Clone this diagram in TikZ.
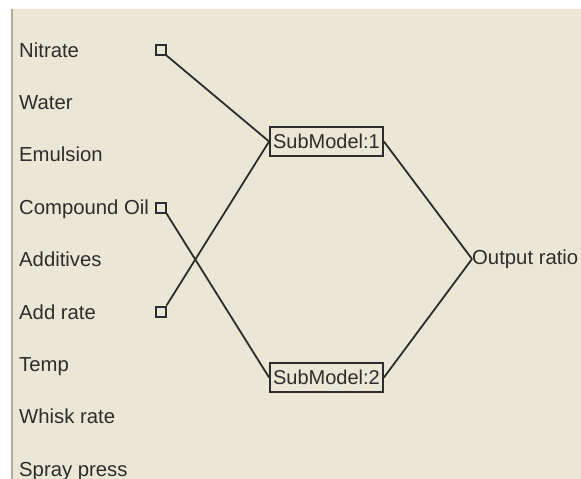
\documentclass[tikz,border=0pt]{standalone}
\usepackage{fontspec}
\setmainfont{Liberation Sans}
\definecolor{bg}{RGB}{234,231,214}
\definecolor{ink}{RGB}{45,45,45}
\definecolor{edge}{RGB}{176,172,156}
\begin{document}
\begin{tikzpicture}[x=1pt,y=-1pt,
  lbl/.style={anchor=base west,inner sep=0pt,text=ink,font=\fontsize{20.3}{22}\selectfont},
  port/.style={draw=ink,line width=2pt,minimum size=10pt,inner sep=0pt},
  subbox/.style={draw=ink,line width=1.8pt,minimum width=113pt,minimum height=29pt,inner sep=0pt,text=ink,font=\fontsize{20}{22}\selectfont},
  wire/.style={draw=ink,line width=1.8pt}]
\useasboundingbox (0,0) rectangle (581,479);
\fill[white] (0,0) rectangle (581,479);
\fill[bg] (11,9) rectangle (581,479);
\draw[edge,line width=2pt] (12,9) -- (12,479);
% input labels
\node[lbl] (nitrate) at (19,57) {Nitrate};
\node[lbl] (water) at (19,109.4) {Water};
\node[lbl] (emulsion) at (19,161.8) {Emulsion};
\node[lbl] (coil) at (19,214.2) {Compound Oil};
\node[lbl] (additives) at (19,266.6) {Additives};
\node[lbl] (addrate) at (19,319) {Add rate};
\node[lbl] (temp) at (19,371.4) {Temp};
\node[lbl] (whisk) at (19,423.8) {Whisk rate};
\node[lbl] (spray) at (19,476.2) {Spray press};
% ports
\node[port] (pN) at (160.5,49.5) {};
\node[port] (pC) at (160.5,207.5) {};
\node[port] (pA) at (160.5,311.5) {};
% submodels
\node[subbox] (sm1) at (326.5,141.5) {SubModel:1};
\node[subbox] (sm2) at (326.5,377.5) {SubModel:2};
% output
\node[anchor=west,inner sep=0pt,text=ink,font=\fontsize{20.3}{22}\selectfont] (out) at (472,259) {Output ratio};
% wires
\draw[wire] (pN.south east) -- (sm1.west);
\draw[wire] (pA.north east) -- (sm1.west);
\draw[wire] (pC.south east) -- (sm2.west);
\draw[wire] (sm1.east) -- (out.west);
\draw[wire] (sm2.east) -- (out.west);
\end{tikzpicture}
\end{document}
